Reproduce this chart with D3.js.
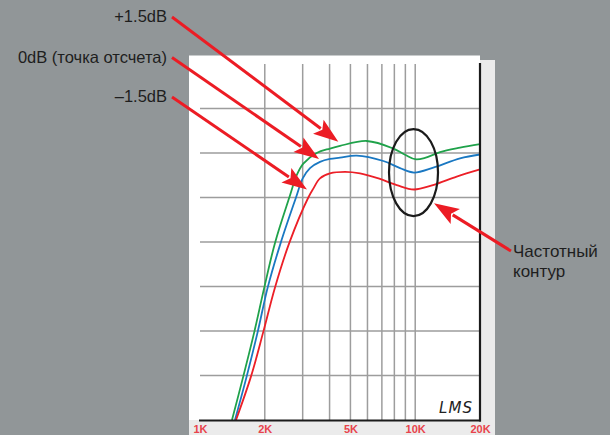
<!DOCTYPE html>
<html><head><meta charset="utf-8">
<script src="https://cdn.jsdelivr.net/npm/d3@7"></script>
<style>
html,body{margin:0;padding:0;background:#919698;}
svg{display:block;}
</style></head>
<body>
<svg id="c" width="610" height="435"></svg>
<script>
// ---- data ----
const tickFreqs = [1000, 2000, 5000, 10000, 20000];
const tickLabels = ["1K", "2K", "5K", "10K", "20K"];
const gridFreqs = [2000, 3000, 4000, 5000, 6000, 7000, 8000, 9000, 10000];
const gridDb = [-25, -20, -15, -10, -5, 0, 5];

const plusFreq = [1408, 1589, 1788, 1990, 2231, 2600, 2814, 3020, 3486, 4018, 4473, 5953, 7912, 8965, 10000, 11105, 13039, 16152, 20000];
const plusDb   = [-30, -25.1, -20.1, -15.1, -10.1, -5.0, -2.5, -1.2, 0.0, 0.5, 0.8, 1.35, 0.5, -0.2, -0.7, -0.55, 0.1, 0.6, 1.0];

const zeroFreq = [1454, 1648, 1854, 2064, 2371, 2793, 3001, 3245, 3611, 4018, 4473, 5348, 7109, 8500, 9872, 12134, 16152, 20000];
const zeroDb   = [-30, -25.1, -20.1, -15.1, -10.1, -5.0, -2.85, -1.7, -1.0, -0.67, -0.53, -0.3, -0.9, -1.7, -2.2, -1.65, -0.6, -0.17];

const minusFreq = [1470, 1726, 1968, 2231, 2600, 3186, 3362, 3611, 4018, 4719, 5541, 6625, 8204, 9872, 12095, 15590, 20000];
const minusDb   = [-30, -25.1, -20.1, -15.1, -10.1, -5.0, -4.0, -2.85, -2.3, -2.13, -2.3, -2.8, -3.6, -4.1, -3.6, -2.65, -1.85];

const seriesNames = ["+1.5dB", "0dB (точка отсчета)", "–1.5dB"];
const seriesColors = ["#1fa24a", "#1a78c2", "#ec1f27"];

// ---- layout ----
const svg = d3.select("#c");
const x = d3.scaleLog().domain([1000, 20000]).range([200, 480]);
const y = d3.scaleLinear().domain([-30, 10]).range([420, 64]);

// panels
svg.append("rect").attr("x", 189).attr("y", 60).attr("width", 306).attr("height", 375).attr("fill", "#ebebeb");
svg.append("rect").attr("x", 189).attr("y", 55.5).attr("width", 291).attr("height", 364.5).attr("fill", "#ffffff");

// grid
const gridColor = "#9d9d9d";
svg.append("g").selectAll("line").data(gridDb).join("line")
  .attr("x1", x(1000)).attr("x2", x(20000))
  .attr("y1", d => y(d)).attr("y2", d => y(d))
  .attr("stroke", gridColor).attr("stroke-width", 1.5);
svg.append("g").selectAll("line").data(gridFreqs).join("line")
  .attr("x1", d => x(d)).attr("x2", d => x(d))
  .attr("y1", y(10)).attr("y2", y(-30))
  .attr("stroke", gridColor).attr("stroke-width", 1.5);

// curves
const line = d3.line().x(d => x(d[0])).y(d => y(d[1])).curve(d3.curveCatmullRom.alpha(0.5));
const series = [
  d3.zip(plusFreq, plusDb),
  d3.zip(zeroFreq, zeroDb),
  d3.zip(minusFreq, minusDb)
];
svg.append("g").selectAll("path").data(series).join("path")
  .attr("d", line).attr("fill", "none")
  .attr("stroke", (d, i) => seriesColors[i]).attr("stroke-width", 1.8);

// axes frame
svg.append("line").attr("x1", x(20000)).attr("x2", x(20000)).attr("y1", y(10) - 1).attr("y2", y(-30) + 1.5)
  .attr("stroke", "#1b1b1b").attr("stroke-width", 2.2);
svg.append("line").attr("x1", x(1000) - 1).attr("x2", x(20000) + 1).attr("y1", y(-30) + 0.5).attr("y2", y(-30) + 0.5)
  .attr("stroke", "#1b1b1b").attr("stroke-width", 2.2);

// tick labels
const ax = svg.append("g").attr("transform", `translate(0,${y(-30)})`)
  .call(d3.axisBottom(x).tickValues(tickFreqs).tickFormat((d, i) => tickLabels[i]).tickSize(0).tickPadding(5.5));
ax.select(".domain").remove();
ax.selectAll("text").attr("fill", "#e8434c").attr("font-size", 11).attr("font-weight", "bold")
  .attr("font-family", "'Liberation Sans Narrow','Arial Narrow','Liberation Sans',Arial,sans-serif");

// ellipse (frequency contour)
const ellC = [9820, -2.2];
svg.append("ellipse").attr("cx", x(ellC[0])).attr("cy", y(ellC[1])).attr("rx", 24.5).attr("ry", 43.5)
  .attr("fill", "none").attr("stroke", "#1b1b1b").attr("stroke-width", 2.2);

// signature
svg.append("text").attr("x", 456).attr("y", 413).attr("text-anchor", "middle")
  .attr("font-family", "'DejaVu Sans',sans-serif").attr("font-style", "italic")
  .attr("font-size", 15).attr("fill", "#222").attr("letter-spacing", 1).text("LMS");

// annotations
const arrowColor = "#ec1c24";
function arrow(x0, y0, x1, y1) {
  const dx = x1 - x0, dy = y1 - y0, len = Math.hypot(dx, dy);
  const ux = dx / len, uy = dy / len, L = 25, W = 8.8;
  const bx = x1 - ux * L, by = y1 - uy * L;
  svg.append("line").attr("x1", x0).attr("y1", y0).attr("x2", bx + ux * 3).attr("y2", by + uy * 3)
    .attr("stroke", arrowColor).attr("stroke-width", 3);
  svg.append("polygon")
    .attr("points", [[x1, y1], [bx - uy * W, by + ux * W], [bx + ux * 5, by + uy * 5], [bx + uy * W, by - ux * W]].map(p => p.join(",")).join(" "))
    .attr("fill", arrowColor);
}
const labelFont = "'Liberation Sans',Arial,sans-serif";
const labelY = [22, 62.5, 102];
const startY = [17, 57.5, 97];
const tips = [[4393, 1.27], [3573, -0.67], [3142, -4.1]];
seriesNames.forEach((name, i) => {
  svg.append("text").attr("x", 167).attr("y", labelY[i]).attr("text-anchor", "end")
    .attr("font-family", labelFont).attr("font-size", 16.5)
    .attr("fill", "#1e1e1e").text(name);
  arrow(172, startY[i], x(tips[i][0]), y(tips[i][1]));
});

const contourLines = ["Частотный", "контур"];
contourLines.forEach((t, i) => {
  svg.append("text").attr("x", 513).attr("y", 257 + i * 19.5)
    .attr("font-family", labelFont).attr("font-size", 17)
    .attr("fill", "#1e1e1e").text(t);
});
arrow(511, 251, x(12231), y(-5.65));
</script>
</body></html>
